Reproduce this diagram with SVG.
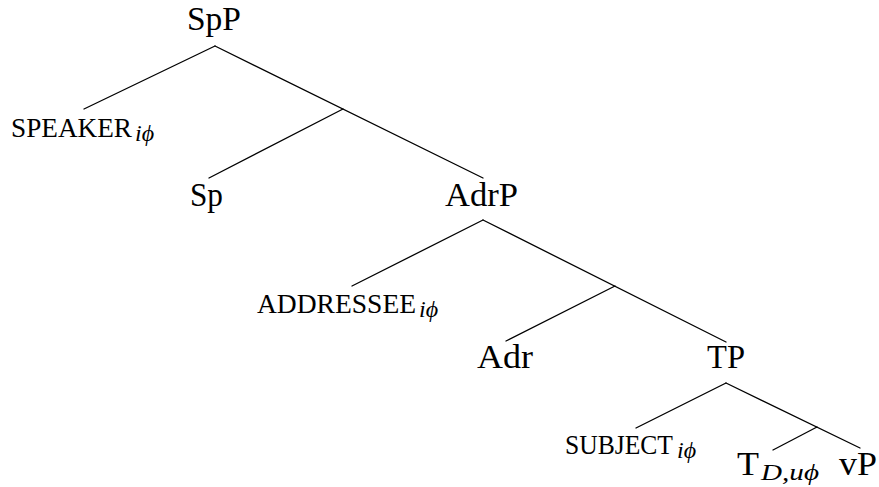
<svg xmlns="http://www.w3.org/2000/svg" width="879" height="487" viewBox="0 0 879 487">
<style>
.n{font-family:"Liberation Serif","Times New Roman",serif;font-size:33px;fill:#000}
.sc{font-family:"Liberation Serif","Times New Roman",serif;font-size:27px;fill:#000}
.sub{font-family:"Liberation Serif","DejaVu Serif",serif;font-style:italic;font-size:24px;fill:#000}
.e{stroke:#000;stroke-width:1.3;fill:none;stroke-linecap:round}
</style>
<rect width="879" height="487" fill="#fff"/>
<g id="connectors">
<line class="e" x1="215" y1="46" x2="84" y2="109"/>
<line class="e" x1="215" y1="46" x2="483" y2="178"/>
<line class="e" x1="343" y1="109" x2="209" y2="178"/>
<line class="e" x1="483" y1="220" x2="352" y2="286"/>
<line class="e" x1="483" y1="220" x2="726" y2="342"/>
<line class="e" x1="615" y1="286" x2="506" y2="341"/>
<line class="e" x1="726" y1="383" x2="636" y2="428"/>
<line class="e" x1="726" y1="383" x2="860" y2="448"/>
<line class="e" x1="817" y1="427" x2="773" y2="450"/>
</g>
<g id="SpP"><text class="n" x="187" y="30" textLength="54" lengthAdjust="spacingAndGlyphs">SpP</text></g>
<g id="SPEAKER"><text class="sc" x="11" y="137" textLength="121" lengthAdjust="spacingAndGlyphs">SPEAKER</text><text class="sub" x="135" y="141">iϕ</text></g>
<g id="Sp"><text class="n" x="190" y="206" textLength="33" lengthAdjust="spacingAndGlyphs">Sp</text></g>
<g id="AdrP"><text class="n" x="445" y="206" textLength="73" lengthAdjust="spacingAndGlyphs">AdrP</text></g>
<g id="ADDRESSEE"><text class="sc" x="257" y="313" textLength="159" lengthAdjust="spacingAndGlyphs">ADDRESSEE</text><text class="sub" x="419" y="317">iϕ</text></g>
<g id="Adr"><text class="n" x="477" y="368" textLength="56" lengthAdjust="spacingAndGlyphs">Adr</text></g>
<g id="TP"><text class="n" x="707" y="368" textLength="38" lengthAdjust="spacingAndGlyphs">TP</text></g>
<g id="SUBJECT"><text class="sc" x="565" y="454" textLength="108" lengthAdjust="spacingAndGlyphs">SUBJECT</text><text class="sub" x="677" y="458">iϕ</text></g>
<g id="T"><text class="n" x="737" y="475" textLength="22" lengthAdjust="spacingAndGlyphs">T</text><text class="sub" x="761" y="480" textLength="58" lengthAdjust="spacingAndGlyphs">D,uϕ</text></g>
<g id="vP"><text class="n" x="839" y="475" textLength="38" lengthAdjust="spacingAndGlyphs">vP</text></g>
</svg>
